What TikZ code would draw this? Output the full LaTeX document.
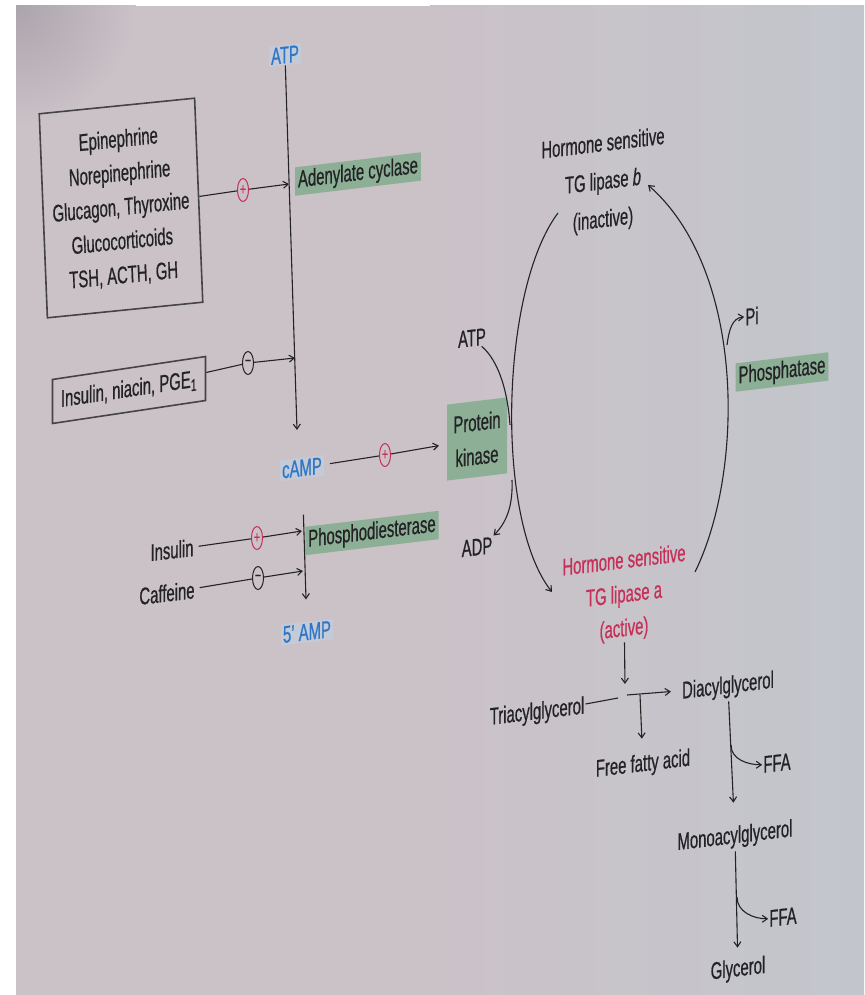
\documentclass[tikz,border=0pt]{standalone}
\usepackage{fontspec}
\setmainfont{Liberation Sans}[FakeStretch=0.62,FakeBold=0.6]
\usetikzlibrary{shapes.geometric,arrows.meta}

\definecolor{paper}{RGB}{203,194,200}
\definecolor{paperblue}{RGB}{194,198,204}
\definecolor{paperdark}{RGB}{172,164,172}
\definecolor{ampblue}{RGB}{45,118,200}
\definecolor{ampback}{RGB}{196,202,214}
\definecolor{enzgreen}{RGB}{140,175,150}
\definecolor{actred}{RGB}{198,48,88}
\definecolor{ink}{RGB}{35,35,38}

\tikzset{
  >={Straight Barb[length=5pt,width=7pt]},
  lbl/.style={font=\fontsize{24}{34}\selectfont, text=ink, inner sep=1pt, align=center},
  tilt/.style={yslant=0.12},
  amp/.style={lbl, tilt, text=ampblue, fill=ampback, inner sep=2pt},
  enz/.style={lbl, tilt, fill=enzgreen, inner sep=3pt},
  hbox/.style={lbl, draw=ink!85, line width=1.6pt},
  sgn/.style={ellipse, draw=ink, line width=1pt, minimum width=11pt, minimum height=23pt, inner sep=0pt, font=\fontsize{17}{17}\selectfont, text=ink},
  sgnred/.style={sgn, draw=actred, text=actred},
  flow/.style={draw=ink, line width=1.1pt, ->},
  link/.style={draw=ink, line width=1.1pt},
}

\begin{document}
\begin{tikzpicture}[x=1pt,y=-1pt]
\useasboundingbox (0,0) rectangle (864,995);
% photographed page
\fill[paper] (16,6) rectangle (864,995);
\shade[left color=paper, right color=paperblue] (430,6) rectangle (864,995);
\begin{scope}
\clip (16,6) rectangle (864,995);
\shade[inner color=paperdark, outer color=paper] (16,6) circle (120);
\end{scope}

% cAMP side
\node[amp] (atp) at (285,55) {ATP};
\node[hbox, xslant=-0.04, yslant=0.1, minimum width=156pt, minimum height=204pt] (hormones) at (121,208)
  {Epinephrine\\Norepinephrine\\Glucagon, Thyroxine\\Glucocorticoids\\TSH, ACTH, GH};
\node[sgnred] (act1) at (243,190) {+};
\node[enz] (cyclase) at (358,174) {Adenylate cyclase};
\node[hbox, yslant=0.15, minimum width=153pt, minimum height=44pt] (inhib) at (129,390) {Insulin, niacin, PGE\textsubscript{1}};
\node[sgn] (inh1) at (248,363) {−};
\node[amp] (camp) at (302,468) {cAMP};
\node[sgnred] (act2) at (385,455) {+};
\node[enz, minimum width=60pt, minimum height=76pt] (kinase) at (477,439) {Protein\\kinase};
\node[enz] (pde) at (372,533) {Phosphodiesterase};
\node[lbl, tilt] (insulin) at (172,550) {Insulin};
\node[sgnred] (act3) at (257,538) {+};
\node[lbl, tilt] (caffeine) at (167,593) {Caffeine};
\node[sgn] (inh2) at (258,578) {−};
\node[amp] (amp5) at (307,632) {5' AMP};

% lipase cycle
\node[lbl, tilt] (lipb) at (603,183) {Hormone sensitive\\[4pt]TG lipase \textit{b}\\[4pt](inactive)};
\node[lbl, tilt, text=actred] (lipa) at (624,596) {Hormone sensitive\\TG lipase a\\(active)};
\node[lbl, tilt] (atp2) at (472,338) {ATP};
\node[lbl, tilt] (adp) at (477,547) {ADP};
\node[lbl, tilt] (pi) at (752,316) {Pi};
\node[enz] (ptase) at (782,372) {Phosphatase};
\node[lbl, tilt] (tag) at (537,713) {Triacylglycerol};
\node[lbl, tilt] (dag) at (728,687) {Diacylglycerol};
\node[lbl, tilt] (fa) at (643,765) {Free fatty acid};
\node[lbl, tilt] (ffa1) at (777,763) {FFA};
\node[lbl, tilt] (mag) at (735,837) {Monoacylglycerol};
\node[lbl, tilt] (ffa2) at (783,917) {FFA};
\node[lbl, tilt] (gly) at (738,970) {Glycerol};

\coordinate (campin) at (297,430);
\coordinate (hit1) at (289,184);
\coordinate (hit2) at (295,358);
\coordinate (hit3) at (302,531);
\coordinate (hit4) at (303,571);
\coordinate (arcL) at (558,213);
\coordinate (tipL) at (552,592);
\coordinate (arcR) at (695,572);
\coordinate (tipR) at (648,185);
\coordinate (kin1) at (510,425);
\coordinate (kin2) at (512,480);
\coordinate (pho) at (727,345);
\coordinate (cutL) at (618,698);
\coordinate (cutR) at (627,695);
\coordinate (cutC) at (625,688);
\coordinate (fork0) at (640,695);
\coordinate (fork1) at (731,745);
\coordinate (fork2) at (737,897);

\draw[flow] (atp) -- (campin);
\draw[link] (hormones) -- (act1);
\draw[flow] (act1) -- (hit1);
\draw[link] (inhib) -- (inh1);
\draw[flow] (inh1) -- (hit2);
\draw[link, shorten <=6pt] (camp) -- (act2);
\draw[flow, shorten >=8pt] (act2) -- (kinase);
\draw[flow, shorten <=36pt, shorten >=22pt] (camp) -- (amp5);
\draw[link, shorten <=4pt] (insulin) -- (act3);
\draw[flow] (act3) -- (hit3);
\draw[link, shorten <=4pt] (caffeine) -- (inh2);
\draw[flow] (inh2) -- (hit4);

\draw[flow] (arcL) .. controls (500,290) and (495,520) .. (tipL);
\draw[flow] (arcR) .. controls (745,470) and (745,270) .. (tipR);
\draw[link] (atp2) .. controls (500,362) and (508,395) .. (kin1);
\draw[flow] (kin2) .. controls (513,505) and (507,522) .. (adp.north east);
\draw[flow] (pho) .. controls (729,330) and (732,318) .. (pi.west);

\draw[flow, shorten >=4pt] (lipa) -- (cutC);
\draw[link] (tag) -- (cutL);
\draw[flow, shorten >=10pt] (cutR) -- (dag);
\draw[flow, shorten >=14pt] (fork0) -- (fa);
\draw[flow, shorten <=2pt, shorten >=22pt] (dag) -- (mag);
\draw[flow] (fork1) to[out=-90,in=180] (ffa1.west);
\draw[flow, shorten <=2pt, shorten >=10pt] (mag) -- (gly);
\draw[flow] (fork2) to[out=-90,in=180] (ffa2.west);
\end{tikzpicture}
\end{document}
